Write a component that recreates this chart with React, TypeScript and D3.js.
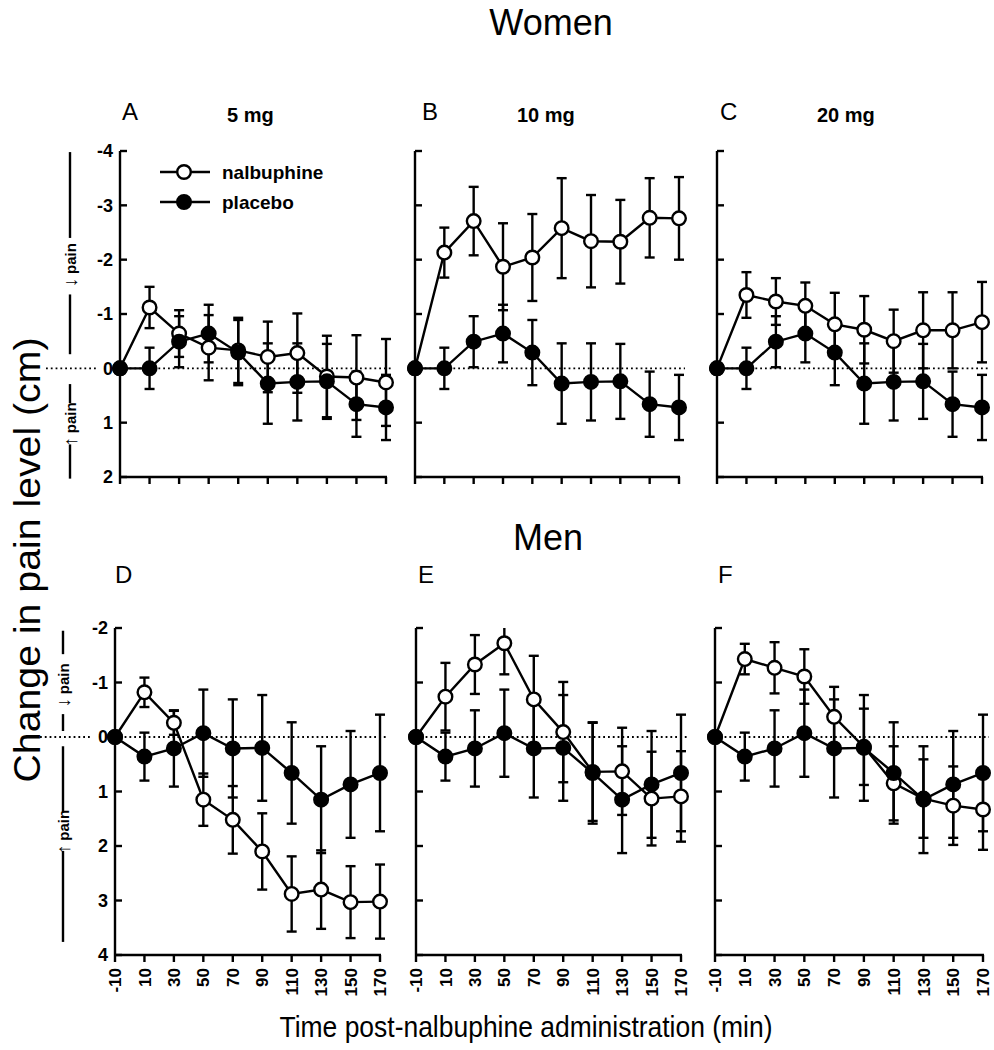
import React from 'react';
import * as d3 from 'd3';

const times = [-10, 10, 30, 50, 70, 90, 110, 130, 150, 170];
const xTickLabels = ['-10', '10', '30', '50', '70', '90', '110', '130', '150', '170'];

const womenPlacebo = [0, 0, -0.49, -0.64, -0.29, 0.28, 0.25, 0.24, 0.66, 0.72];
const womenPlaceboErr = [0, 0.38, 0.47, 0.53, 0.6, 0.74, 0.71, 0.69, 0.6, 0.6];
const women5Nalb = [0, -1.12, -0.64, -0.38, -0.33, -0.21, -0.28, 0.15, 0.17, 0.26];
const women5NalbErr = [0, 0.38, 0.43, 0.6, 0.6, 0.65, 0.73, 0.75, 0.78, 0.8];
const women10Nalb = [0, -2.13, -2.71, -1.87, -2.04, -2.58, -2.34, -2.33, -2.77, -2.76];
const women10NalbErr = [0, 0.46, 0.63, 0.8, 0.8, 0.92, 0.85, 0.77, 0.73, 0.76];
const women20Nalb = [0, -1.35, -1.23, -1.15, -0.81, -0.71, -0.5, -0.7, -0.7, -0.85];
const women20NalbErr = [0, 0.42, 0.43, 0.43, 0.58, 0.62, 0.58, 0.7, 0.7, 0.74];

const menPlacebo = [0, 0.36, 0.21, -0.07, 0.21, 0.2, 0.66, 1.15, 0.87, 0.66];
const menPlaceboErr = [0, 0.44, 0.7, 0.8, 0.9, 0.97, 0.93, 0.98, 0.98, 1.07];
const men5Nalb = [0, -0.82, -0.26, 1.15, 1.52, 2.1, 2.88, 2.8, 3.03, 3.02];
const men5NalbErr = [0, 0.27, 0.22, 0.48, 0.62, 0.7, 0.69, 0.72, 0.66, 0.68];
const men10Nalb = [0, -0.74, -1.33, -1.72, -0.69, -0.09, 0.64, 0.63, 1.13, 1.09];
const men10NalbErr = [0, 0.62, 0.54, 0.57, 0.8, 0.92, 0.9, 0.8, 0.86, 0.83];
const men20Nalb = [0, -1.43, -1.27, -1.11, -0.37, 0.18, 0.85, 1.13, 1.26, 1.33];
const men20NalbErr = [0, 0.28, 0.47, 0.5, 0.55, 0.7, 0.68, 0.72, 0.72, 0.74];

const womenYTicks = [-4, -3, -2, -1, 0, 1, 2];
const menYTicks = [-2, -1, 0, 1, 2, 3, 4];

const panelLetters = ['A', 'B', 'C', 'D', 'E', 'F'];
const doseLabels = ['5 mg', '10 mg', '20 mg'];
const legendLabels = ['nalbuphine', 'placebo'];

const FONT = "'Liberation Sans', Arial, Helvetica, sans-serif";
const SW = 2.4;

type PanelProps = {
  xr: [number, number];
  y: d3.ScaleLinear<number, number>;
  yTicks: number[];
  showYLabels: boolean;
  showXLabels: boolean;
  nalb: number[];
  nalbErr: number[];
  plac: number[];
  placErr: number[];
};

function Panel({ xr, y, yTicks, showYLabels, showXLabels, nalb, nalbErr, plac, placErr }: PanelProps) {
  const x = d3.scaleLinear().domain([-10, 170]).range(xr);
  const [d0, d1] = y.domain();
  const x0 = xr[0];
  const line = d3
    .line<number>()
    .x((_, i) => x(times[i]))
    .y((v) => y(v));
  const errBars = (vals: number[], errs: number[], key: string) =>
    vals.map((v, i) => {
      const e = errs[i];
      if (!e) return null;
      const lo = v - e;
      const hi = v + e;
      const cl = Math.max(lo, d0);
      const ch = Math.min(hi, d1);
      const cx = x(times[i]);
      return (
        <g key={key + i}>
          <line x1={cx} x2={cx} y1={y(cl)} y2={y(ch)} stroke="#000" strokeWidth={SW} />
          {lo >= d0 && <line x1={cx - 5} x2={cx + 5} y1={y(lo)} y2={y(lo)} stroke="#000" strokeWidth={SW} />}
          {hi <= d1 && <line x1={cx - 5} x2={cx + 5} y1={y(hi)} y2={y(hi)} stroke="#000" strokeWidth={SW} />}
        </g>
      );
    });
  return (
    <g>
      <line x1={x0} x2={x(170) + 6} y1={y(0)} y2={y(0)} stroke="#000" strokeWidth={1.8} strokeDasharray="1.8,3" />
      <line x1={x0} x2={x0} y1={y(d0)} y2={y(d1)} stroke="#000" strokeWidth={SW} />
      <line x1={x0} x2={x(170) + 1} y1={y(d1)} y2={y(d1)} stroke="#000" strokeWidth={SW} />
      {yTicks.map((t) => (
        <g key={'yt' + t}>
          <line x1={x0} x2={x0 + 7} y1={y(t)} y2={y(t)} stroke="#000" strokeWidth={SW} />
          {showYLabels && (
            <text x={x0 - 7} y={y(t)} dy="0.36em" textAnchor="end" fontFamily={FONT} fontWeight="bold" fontSize={18}>
              {String(t)}
            </text>
          )}
        </g>
      ))}
      {times.map((t, i) => (
        <g key={'xt' + t}>
          <line x1={x(t)} x2={x(t)} y1={y(d1)} y2={y(d1) + 7} stroke="#000" strokeWidth={SW} />
          {showXLabels && (
            <text
              transform={`translate(${x(t)},${y(d1) + 13}) rotate(-90)`}
              dy="0.36em"
              textAnchor="end"
              fontFamily={FONT}
              fontWeight="bold"
              fontSize={17}
            >
              {xTickLabels[i]}
            </text>
          )}
        </g>
      ))}
      {errBars(nalb, nalbErr, 'ne')}
      {errBars(plac, placErr, 'pe')}
      <path d={line(nalb) || ''} fill="none" stroke="#000" strokeWidth={SW} />
      <path d={line(plac) || ''} fill="none" stroke="#000" strokeWidth={SW} />
      {nalb.map((v, i) => (
        <circle key={'nc' + i} cx={x(times[i])} cy={y(v)} r={6.8} fill="#fff" stroke="#000" strokeWidth={SW} />
      ))}
      {plac.map((v, i) => (
        <circle key={'pc' + i} cx={x(times[i])} cy={y(v)} r={6.8} fill="#000" stroke="#000" strokeWidth={SW} />
      ))}
    </g>
  );
}

function SideNote({
  x,
  y,
  lines,
  texts,
}: {
  x: number;
  y: d3.ScaleLinear<number, number>;
  lines: [number, number][];
  texts: { v: number; arrow: string }[];
}) {
  return (
    <g>
      {lines.map(([a, b], i) => (
        <line key={'sl' + i} x1={x} x2={x} y1={y(a)} y2={y(b)} stroke="#000" strokeWidth={SW} />
      ))}
      {texts.map((t, i) => (
        <g key={'st' + i} transform={`translate(${x},${y(t.v)}) rotate(-90)`}>
          <text x={-23} y={0} dy="0.36em" textAnchor="start" fontFamily={FONT} fontWeight="bold" style={{ fontSize: '19px' }}>
            {t.arrow}
          </text>
          <text x={-10} y={1} dy="0.36em" textAnchor="start" fontFamily={FONT} fontWeight="bold" style={{ fontSize: '15px' }}>
            pain
          </text>
        </g>
      ))}
    </g>
  );
}

export default function App() {
  const W = 994;
  const H = 1050;
  const topY = d3.scaleLinear().domain([-4, 2]).range([151, 477]);
  const botY = d3.scaleLinear().domain([-2, 4]).range([628, 955]);
  const topCols: [number, number][] = [
    [120, 386],
    [415, 679],
    [717, 982],
  ];
  const botCols: [number, number][] = [
    [115, 380],
    [416, 681],
    [715, 983],
  ];
  const womenN = [women5Nalb, women10Nalb, women20Nalb];
  const womenNE = [women5NalbErr, women10NalbErr, women20NalbErr];
  const menN = [men5Nalb, men10Nalb, men20Nalb];
  const menNE = [men5NalbErr, men10NalbErr, men20NalbErr];

  return (
    <svg width={W} height={H} style={{ position: 'absolute', left: 0, top: 0, background: '#fff' }}>
      <rect x={0} y={0} width={W} height={H} fill="#fff" />
      <text x={551} y={35} textAnchor="middle" fontFamily={FONT} fontSize={36}>Women</text>
      <text x={548} y={550} textAnchor="middle" fontFamily={FONT} fontSize={36}>Men</text>
      <text
        transform="translate(40,560) rotate(-90)"
        textAnchor="middle"
        fontFamily={FONT}
        fontSize={36}
        textLength={445}
        lengthAdjust="spacingAndGlyphs"
      >
        Change in pain level (cm)
      </text>
      <text
        x={526}
        y={1037}
        textAnchor="middle"
        fontFamily={FONT}
        fontSize={30}
        textLength={493}
        lengthAdjust="spacingAndGlyphs"
      >
        Time post-nalbuphine administration (min)
      </text>

      {[122, 422, 720].map((px, i) => (
        <text key={'tl' + i} x={px} y={120} fontFamily={FONT} fontSize={24}>{panelLetters[i]}</text>
      ))}
      {[227, 517, 817].map((px, i) => (
        <text key={'dl' + i} x={px} y={122} fontFamily={FONT} fontWeight="bold" fontSize={20}>{doseLabels[i]}</text>
      ))}
      {[115, 418, 718].map((px, i) => (
        <text key={'bl' + i} x={px} y={583} fontFamily={FONT} fontSize={24}>{panelLetters[i + 3]}</text>
      ))}

      <line x1={46} x2={96} y1={topY(0)} y2={topY(0)} stroke="#000" strokeWidth={1.8} strokeDasharray="1.8,3" />
      <line x1={40} x2={92} y1={botY(0)} y2={botY(0)} stroke="#000" strokeWidth={1.8} strokeDasharray="1.8,3" />

      <SideNote
        x={70}
        y={topY}
        lines={[
          [-3.98, -2.4],
          [-1.36, -0.26],
          [0.29, 0.64],
          [1.4, 2.03],
        ]}
        texts={[
          { v: -1.92, arrow: '↓' },
          { v: 1.01, arrow: '↑' },
        ]}
      />
      <SideNote
        x={63}
        y={botY}
        lines={[
          [-1.95, -1.52],
          [-0.42, -0.11],
          [0.17, 1.38],
          [2.09, 3.76],
        ]}
        texts={[
          { v: -0.97, arrow: '↓' },
          { v: 1.72, arrow: '↑' },
        ]}
      />

      {topCols.map((xr, i) => (
        <Panel
          key={'top' + i}
          xr={xr}
          y={topY}
          yTicks={womenYTicks}
          showYLabels={i === 0}
          showXLabels={false}
          nalb={womenN[i]}
          nalbErr={womenNE[i]}
          plac={womenPlacebo}
          placErr={womenPlaceboErr}
        />
      ))}
      {botCols.map((xr, i) => (
        <Panel
          key={'bot' + i}
          xr={xr}
          y={botY}
          yTicks={menYTicks}
          showYLabels={i === 0}
          showXLabels={true}
          nalb={menN[i]}
          nalbErr={menNE[i]}
          plac={menPlacebo}
          placErr={menPlaceboErr}
        />
      ))}

      {legendLabels.map((lab, i) => (
        <g key={'lg' + i}>
          <line x1={160} x2={210} y1={172 + i * 30} y2={172 + i * 30} stroke="#000" strokeWidth={SW} />
          <circle cx={184} cy={172 + i * 30} r={6.8} fill={i === 0 ? '#fff' : '#000'} stroke="#000" strokeWidth={SW} />
          <text x={222} y={172 + i * 30} dy="0.35em" fontFamily={FONT} fontWeight="bold" fontSize={19}>{lab}</text>
        </g>
      ))}
    </svg>
  );
}
